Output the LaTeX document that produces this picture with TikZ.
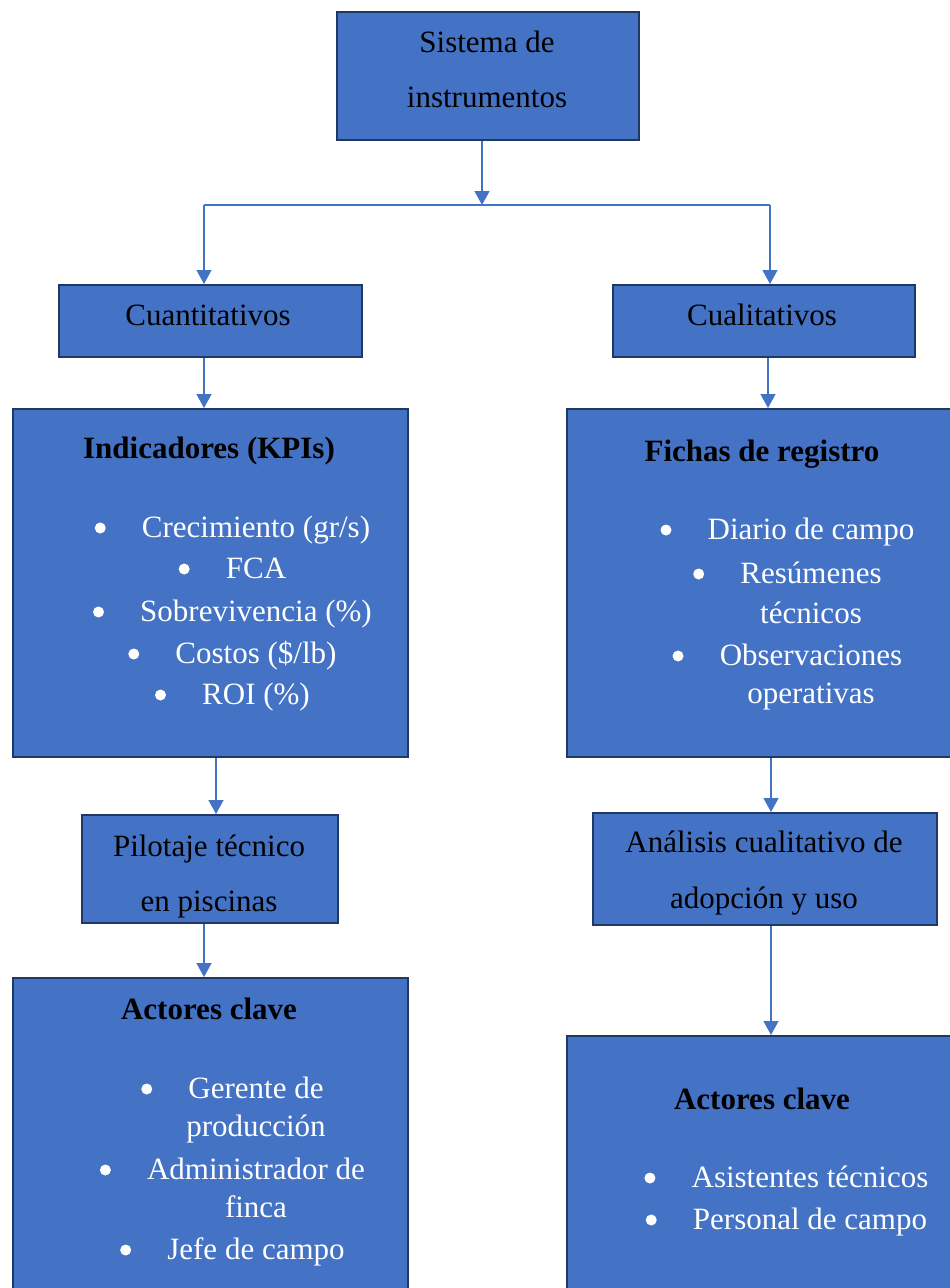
\documentclass[tikz,border=0pt]{standalone}
\usepackage{fontspec}
\setmainfont{Liberation Serif}
\usepackage{tikz}
\usetikzlibrary{arrows.meta}
\definecolor{azul}{HTML}{4472C4}
\definecolor{borde}{HTML}{1F3864}
\tikzset{
	caja/.style={draw=borde,fill=azul,line width=2.2pt,anchor=north west,inner sep=0pt},
	txt/.style={font=\fontsize{31}{37}\selectfont,inner sep=0pt,anchor=base},
	tit/.style={txt,font=\fontsize{31}{37}\selectfont\bfseries},
	itm/.style={txt,text=white},
	enlace/.style={draw=azul,line width=1.4pt}
}
\newcommand{\punto}[1]{\fill[white] ([xshift=-41.5pt,yshift=9pt]#1.base west) circle (5.5pt);}

\begin{document}
\begin{tikzpicture}[x=1pt,y=-1pt,>={Triangle[width=15pt,length=14pt]}]
			\clip (0,0) rectangle (950,1288);
			\node [caja,minimum width=302pt,minimum height=128pt] (sis) at (336,11) {};
			\node [caja,minimum width=303pt,minimum height=72pt] (cuan) at (58,284) {};
			\node [caja,minimum width=302pt,minimum height=72pt] (cual) at (612,284) {};
			\node [caja,minimum width=395pt,minimum height=348pt] (ind) at (12,408) {};
			\node [caja,minimum width=400pt,minimum height=348pt] (fich) at (566,408) {};
			\node [caja,minimum width=256pt,minimum height=108pt] (pil) at (81,814) {};
			\node [caja,minimum width=344pt,minimum height=112pt] (ana) at (592,812) {};
			\node [caja,minimum width=395pt,minimum height=330pt] (actI) at (12,977) {};
			\node [caja,minimum width=400pt,minimum height=300pt] (actD) at (566,1035) {};
			\node [txt] (sis1) at (487,52) {Sistema de};
			\node [txt] (sis2) at (487,107) {instrumentos};
			\node [txt] (cuan1) at (208,325) {Cuantitativos};
			\node [txt] (cual1) at (762,325) {Cualitativos};
			\node [tit] (indT) at (209,458) {Indicadores (KPIs)};
			\node [itm] (ind1) at (256,537) {Crecimiento (gr/s)};
			\node [itm] (ind2) at (256,578) {FCA};
			\node [itm] (ind3) at (256,621) {Sobrevivencia (\%)};
			\node [itm] (ind4) at (256,663) {Costos (\$/lb)};
			\node [itm] (ind5) at (256,704) {ROI (\%)};
			\node [tit] (fichT) at (762,461) {Fichas de registro};
			\node [itm] (fich1) at (811,539) {Diario de campo};
			\node [itm] (fich2) at (811,583) {Resúmenes};
			\node [itm] (fich2b) at (811,623) {técnicos};
			\node [itm] (fich3) at (811,665) {Observaciones};
			\node [itm] (fich3b) at (811,703) {operativas};
			\node [txt] (pil1) at (209,856) {Pilotaje técnico};
			\node [txt] (pil2) at (209,911) {en piscinas};
			\node [txt] (ana1) at (764,852) {Análisis cualitativo de};
			\node [txt] (ana2) at (764,908) {adopción y uso};
			\node [tit] (actIT) at (209,1019) {Actores clave};
			\node [itm] (actI1) at (256,1098) {Gerente de};
			\node [itm] (actI1b) at (256,1136) {producción};
			\node [itm] (actI2) at (256,1179) {Administrador de};
			\node [itm] (actI2b) at (256,1217) {finca};
			\node [itm] (actI3) at (256,1259) {Jefe de campo};
			\node [tit] (actDT) at (762,1109) {Actores clave};
			\node [itm] (actD1) at (810,1187) {Asistentes técnicos};
			\node [itm] (actD2) at (810,1229) {Personal de campo};
			\punto{ind1} \punto{ind2} \punto{ind3} \punto{ind4} \punto{ind5}
			\punto{fich1} \punto{fich2} \punto{fich3}
			\punto{actI1} \punto{actI2} \punto{actI3}
			\punto{actD1} \punto{actD2}
			\coordinate (bif) at (482,205);
			\coordinate (bifI) at (204,205);
			\coordinate (bifD) at (770,205);
			\coordinate (c1) at (204,0);
			\coordinate (c2) at (216,0);
			\coordinate (c3) at (768,0);
			\coordinate (c4) at (771,0);
			\draw [enlace,->] (sis.south -| bif) -- (bif);
			\draw [enlace] (bifI) -- (bifD);
			\draw [enlace,->] (bifI) -- (bifI |- cuan.north);
			\draw [enlace,->] (bifD) -- (bifD |- cual.north);
			\draw [enlace,->] (cuan.south -| c1) -- (ind.north -| c1);
			\draw [enlace,->] (cual.south -| c3) -- (fich.north -| c3);
			\draw [enlace,->] (ind.south -| c2) -- (pil.north -| c2);
			\draw [enlace,->] (fich.south -| c4) -- (ana.north -| c4);
			\draw [enlace,->] (pil.south -| c1) -- (actI.north -| c1);
			\draw [enlace,->] (ana.south -| c4) -- (actD.north -| c4);
			\end{tikzpicture}
\end{document}
